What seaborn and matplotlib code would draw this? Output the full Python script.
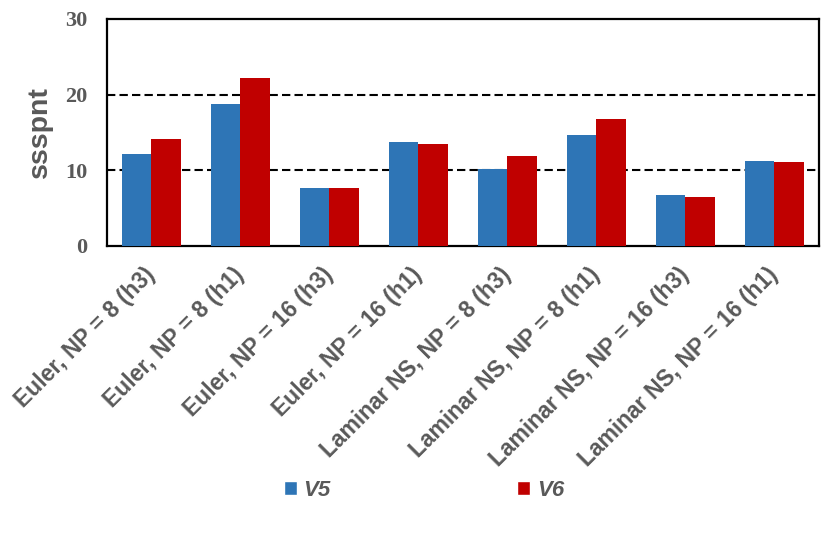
import pandas as pd
import numpy as np
import matplotlib
matplotlib.use("Agg")
import matplotlib.pyplot as plt
from matplotlib.patches import Patch
import seaborn as sns

# values
cases = ["Euler, NP = 8 (h3)", "Euler, NP = 8 (h1)", "Euler, NP = 16 (h3)",
         "Euler, NP = 16 (h1)", "Laminar NS, NP = 8 (h3)", "Laminar NS, NP = 8 (h1)",
         "Laminar NS, NP = 16 (h3)", "Laminar NS, NP = 16 (h1)"]
v5 = [12.1, 18.8, 7.7, 13.8, 10.2, 14.7, 6.7, 11.2]
v6 = [14.2, 22.2, 7.6, 13.5, 11.9, 16.8, 6.5, 11.1]
series = ["V5", "V6"]
yticks = [0, 10, 20, 30]

blue = "#2E75B6"
red = "#C00000"
gray = "#595959"

df = pd.DataFrame({
    "case": cases * 2,
    "series": [series[0]] * len(cases) + [series[1]] * len(cases),
    "value": v5 + v6,
})

sns.set_style("white")
plt.rcParams["font.family"] = ["Liberation Sans", "DejaVu Sans"]

fig = plt.figure(figsize=(8.37, 5.40), dpi=100)
ax = fig.add_axes([107 / 837, 1 - 246 / 540, 712 / 837, 227 / 540])

sns.barplot(data=df, x="case", y="value", hue="series", palette=[blue, red],
            width=0.66, saturation=1, linewidth=0, ax=ax, legend=False, zorder=3)

ax.set_ylim(0, 30)
ax.set_yticks(yticks)
ax.set_xlim(-0.5, len(cases) - 0.5)

# dashed grid lines
for y in yticks[1:-1]:
    ax.axhline(y, color="black", lw=1.5, linestyle=(0, (4, 2)), zorder=1)

for s in ax.spines.values():
    s.set_visible(True)
    s.set_color("black")
    s.set_linewidth(1.6)

ax.tick_params(axis="both", length=0)
ax.tick_params(axis="y", pad=14)
ax.tick_params(axis="x", pad=18)
ax.set_yticklabels([str(t) for t in yticks], family="Liberation Serif",
                   fontweight="bold", fontsize=16, color=gray)

ax.set_xlabel("")
ax.set_ylabel("ssspnt", fontsize=20.5, fontweight="bold", color=gray, labelpad=9)

ax.set_xticks(range(len(cases)))
ax.set_xticklabels(cases, rotation=45, ha="right", va="center",
                   rotation_mode="anchor", fontsize=16.5, fontweight="bold",
                   color=gray)

handles = [Patch(facecolor=blue, label=series[0]), Patch(facecolor=red, label=series[1])]
leg = fig.legend(handles=handles, loc="center left",
                 bbox_to_anchor=(284 / 837, 1 - 490.5 / 540), ncol=2, frameon=False,
                 handlelength=0.58, handleheight=0.58, handletextpad=0.3,
                 columnspacing=8.4, borderpad=0, borderaxespad=0,
                 prop={"size": 16, "weight": "bold", "style": "italic"})
for t in leg.get_texts():
    t.set_color(gray)

fig.savefig("out.png", dpi=100)
